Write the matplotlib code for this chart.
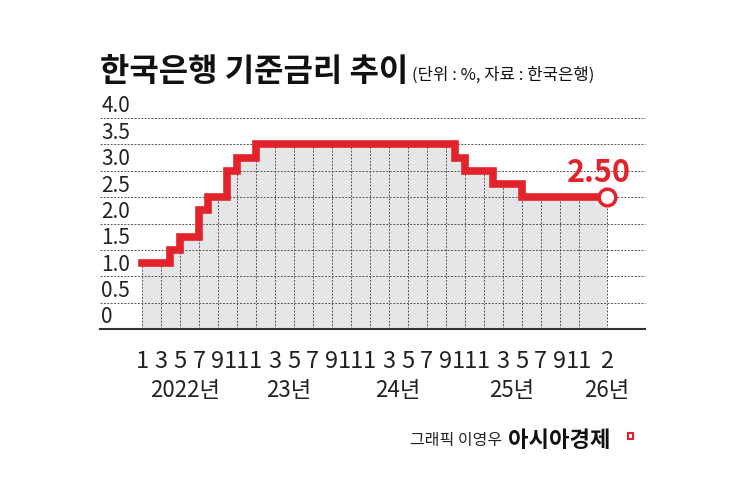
import matplotlib
matplotlib.use("Agg")
import matplotlib.pyplot as plt
from matplotlib.patches import Rectangle

plt.rcParams['font.family'] = ['Noto Sans CJK KR', 'DejaVu Sans']

# monthly base rate, Jan 2022 .. Feb 2026
rates_2022 = [1.25, 1.25, 1.25, 1.5, 1.75, 1.75, 2.25, 2.5, 2.5, 3.0, 3.25, 3.25]
rates_2023 = [3.5] * 12
rates_2024 = [3.5] * 9 + [3.25, 3.0, 3.0]
rates_2025 = [3.0, 2.75, 2.75, 2.75] + [2.5] * 8
rates_2026 = [2.5, 2.5]
rates = rates_2022 + rates_2023 + rates_2024 + rates_2025 + rates_2026

month_labels = ['1', '3', '5', '7', '9', '11'] * 4 + ['2']
month_pos = list(range(0, 48, 2)) + [49]
year_labels = ['2022년', '23년', '24년', '25년', '26년']
year_pos = [4.5, 15.5, 27, 39, 49]
y_ticks = [0, 0.5, 1.0, 1.5, 2.0, 2.5, 3.0, 3.5, 4.0]
y_tick_labels = ['0', '0.5', '1.0', '1.5', '2.0', '2.5', '3.0', '3.5', '4.0']
final_label = '2.50'

RED = '#e3232b'
W, H = 745, 485
fig = plt.figure(figsize=(W / 100, H / 100), dpi=100)
ax = fig.add_axes([100 / W, 1 - 330 / H, 545 / W, 211 / H])
ppm = (607 - 142) / 49
ax.set_xlim(-42 / ppm, 49 + 38 / ppm)
ax.set_ylim(0, 4.0)
ax.axis('off')

x = list(range(len(rates)))
ax.fill_between(x, rates, step='post', color='#e6e6e8', zorder=1, linewidth=0)
for v in y_ticks[1:]:
    ax.plot([ax.get_xlim()[0], ax.get_xlim()[1]], [v, v], ls=(0, (2, 1.5)), color='#555555',
            lw=0.7, zorder=2, clip_on=False)
for p in month_pos:
    ax.plot([p, p], [0, rates[p]], ls=(0, (2, 1.5)), color='#555555', lw=0.7, zorder=2)
ax.plot(ax.get_xlim(), [0, 0], color='#333333', lw=1.5, zorder=3, clip_on=False)
ax.step(x, rates, where='post', color=RED, lw=5.5, zorder=4, solid_joinstyle='miter')
ax.plot([x[-1]], [rates[-1]], 'o', ms=12, mfc='white', mec=RED, mew=2.5, zorder=5)
ax.text(x[-1] - 0.9, rates[-1] + 0.17, final_label, color=RED, fontsize=22, fontweight='bold',
        ha='center', va='bottom', zorder=5)

for v, lab in zip(y_ticks, y_tick_labels):
    ax.text(-4.3, v + 0.03, lab, fontsize=15, ha='left', va='bottom', color='#222222')
for p, lab in zip(month_pos, month_labels):
    ax.text(p, -0.38, lab, fontsize=17, ha='center', va='top', color='#222222')
for p, lab in zip(year_pos, year_labels):
    ax.text(p, -0.92, lab, fontsize=16, ha='center', va='top', color='#222222')

fig.text(100 / W, 1 - 72 / H, '한국은행 기준금리 추이', fontsize=23, fontweight='bold',
         ha='left', va='center', color='#111111')
fig.text(412 / W, 1 - 75 / H, '(단위 : %, 자료 : 한국은행)', fontsize=12,
         ha='left', va='center', color='#111111')
fig.text(410 / W, 1 - 441 / H, '그래픽 이영우', fontsize=11.5, ha='left', va='center', color='#222222')
fig.text(508 / W, 1 - 441 / H, '아시아경제', fontsize=16, fontweight='bold', ha='left', va='center',
         color='#111111')
fig.patches.append(Rectangle((628 / W, 1 - 440 / H), 5 / W, 6 / H, transform=fig.transFigure,
                             fill=False, edgecolor=RED, lw=1.5))

fig.savefig('out.png', dpi=100)
